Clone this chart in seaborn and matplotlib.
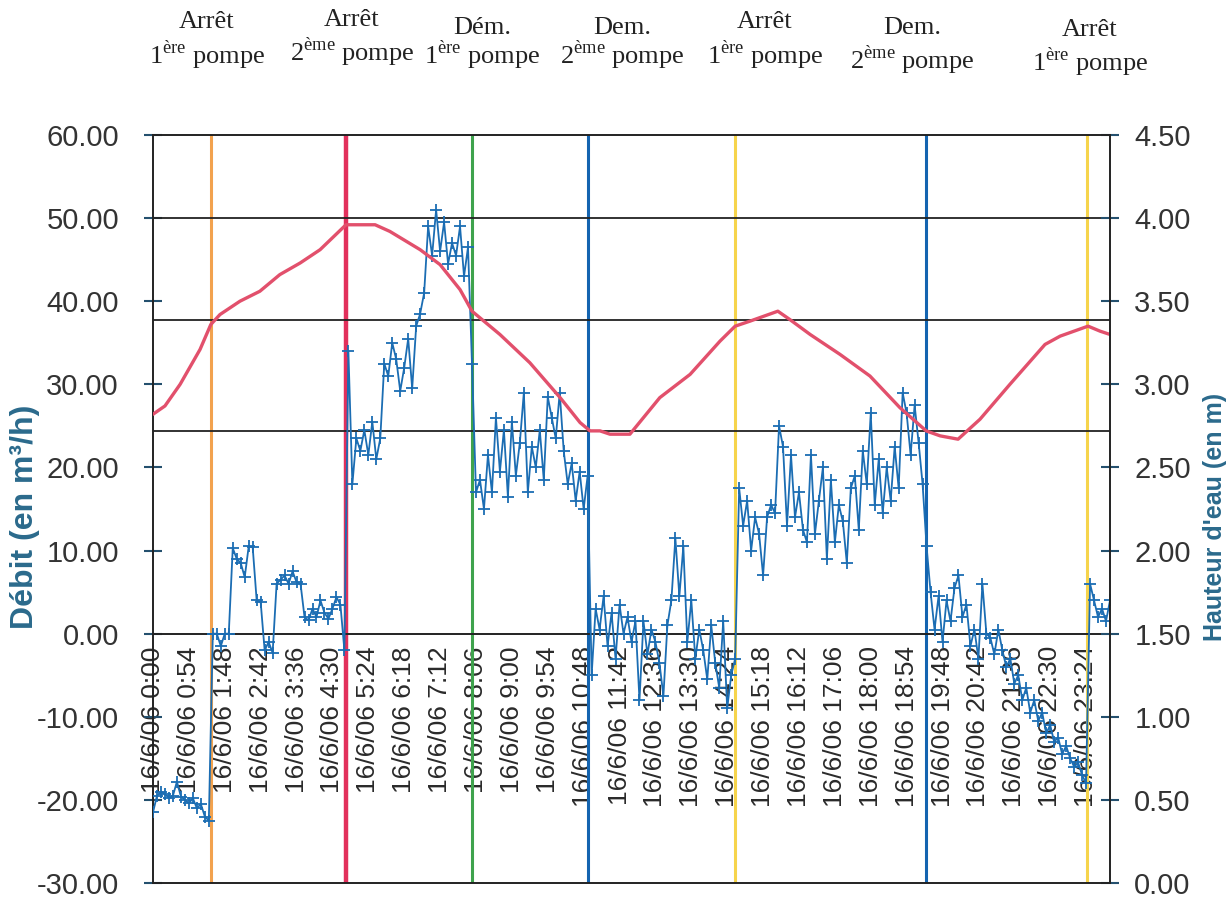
import numpy as np
import seaborn as sns
import matplotlib.pyplot as plt

# Débit (m3/h), un relevé toutes les 6 minutes de 0:00 à 24:00
debit = [
    # 0:00 - 1:24
    -21.5, -19.5, -19.0, -19.3, -19.8, -19.5, -17.8, -19.6, -20.0, -20.4,
    -19.8, -21.0, -20.5, -22.0, -22.5,
    # 1:30 - 4:48
    0.0, 0.0, -1.5, 0.0, 0.0, 10.3, 9.0, 8.5, 6.8, 10.5, 10.4, 4.0, 3.8,
    -2.0, -1.0, -2.3, 6.0, 6.5, 7.0, 6.0, 7.5, 6.2, 6.0, 2.0, 1.6, 3.0,
    2.0, 4.0, 2.5, 1.8, 3.0, 4.4, 3.5, -2.0,
    # 4:54 - 8:00
    34.0, 18.0, 23.5, 22.0, 24.5, 21.5, 25.5, 21.0, 23.5, 32.5, 31.0, 35.0,
    33.0, 29.2, 32.0, 35.5, 29.5, 37.0, 38.5, 41.0, 49.0, 45.5, 51.0, 46.0,
    49.5, 44.5, 47.0, 45.5, 49.0, 43.0, 46.5, 32.5,
    # 8:06 - 10:54
    17.0, 18.5, 15.0, 21.5, 17.0, 26.0, 19.5, 24.5, 16.5, 25.5, 19.0, 23.0,
    29.0, 17.0, 22.5, 20.0, 24.5, 18.5, 28.5, 26.0, 23.5, 29.0, 22.0, 18.0,
    20.5, 16.0, 19.5, 15.0, 19.0,
    # 11:00 - 14:36
    -5.0, 3.0, 0.5, 4.5, -1.5, 2.5, -3.0, 3.5, 0.0, 2.0, -1.0, 1.5, -8.0,
    1.5, -2.5, 0.5, -1.0, -3.5, -7.5, 1.0, 4.0, 11.5, 4.5, 10.5, -1.0, 4.0,
    -3.0, 0.5, -2.0, -5.5, 1.0, -3.5, -6.5, 1.5, -9.0, -5.0, -3.0,
    # 14:42 - 19:24
    17.5, 13.0, 16.0, 10.0, 14.0, 12.0, 7.0, 14.0, 15.5, 14.5, 25.0, 22.5,
    13.0, 21.5, 14.0, 17.0, 12.5, 11.0, 21.5, 12.0, 16.0, 20.0, 9.0, 18.5,
    11.0, 15.5, 13.5, 8.5, 17.5, 19.0, 12.5, 22.0, 18.0, 26.5, 15.5, 21.0,
    14.5, 20.0, 16.0, 22.5, 17.5, 29.0, 26.5, 21.5, 27.5, 23.0, 18.0, 10.5,
    # 19:30 - 23:24
    5.0, 0.5, 4.5, -1.0, 4.0, 1.5, 5.5, 7.0, 2.0, 3.5, -1.5, 0.5, -3.0, 6.0,
    0.0, -0.5, -2.5, 0.5, -2.0, -4.0, -3.0, -6.0, -5.0, -8.0, -6.5, -9.5,
    -8.0, -10.5, -9.5, -12.0, -11.0, -13.0, -12.5, -14.5, -13.5, -15.0,
    -16.0, -15.5, -17.0, -18.0,
    # 23:30 - 24:00
    6.0, 4.0, 2.0, 3.0, 1.5, 4.0,
]
heure_debit = np.arange(len(debit)) * 0.1

# Hauteur d'eau (m)
heure_niveau = [0.0, 0.30, 0.68, 1.18, 1.45, 1.68, 2.18, 2.68, 3.18, 3.69,
                4.19, 4.84, 5.57, 5.94, 6.70, 7.20, 7.70, 8.00, 8.70, 9.45,
                10.21, 10.71, 10.96, 11.21, 11.46, 11.96, 12.71, 13.47, 14.22,
                14.60, 14.97, 15.67, 15.97, 16.48, 17.23, 17.98, 18.73, 19.39,
                19.74, 20.19, 20.74, 21.49, 22.37, 22.75, 23.45, 23.75, 24.0]
niveau = [2.82, 2.87, 3.00, 3.21, 3.36, 3.42, 3.50, 3.56, 3.66, 3.73,
          3.81, 3.96, 3.96, 3.92, 3.81, 3.72, 3.57, 3.44, 3.30, 3.13,
          2.92, 2.77, 2.72, 2.72, 2.70, 2.70, 2.92, 3.06, 3.26,
          3.35, 3.38, 3.44, 3.39, 3.30, 3.18, 3.05, 2.86, 2.72,
          2.69, 2.67, 2.79, 3.00, 3.24, 3.29, 3.35, 3.32, 3.30]

# consignes de niveau (en débit, axe de gauche)
seuils = [50.0, 37.8, 24.4]

# événements pompes
evenements_heure = [1.45, 4.84, 8.0, 10.91, 14.6, 19.39, 23.42]
evenements_couleur = ['#F2A24E', '#E2305C', '#3FA34D', '#1464B0',
                      '#F6D44C', '#1464B0', '#F6D44C']
evenements_titre = ['Arrêt', 'Arrêt', 'Dém.', 'Dem.', 'Arrêt', 'Dem.', 'Arrêt']
evenements_pompe = ['1', '2', '1', '2', '1', '2', '1']
evenements_suffixe = ['ère', 'ème', 'ère', 'ème', 'ère', 'ème', 'ère']

heures_labels = ['16/6/06 0:00', '16/6/06 0:54', '16/6/06 1:48', '16/6/06 2:42',
                 '16/6/06 3:36', '16/6/06 4:30', '16/6/06 5:24', '16/6/06 6:18',
                 '16/6/06 7:12', '16/6/06 8:06', '16/6/06 9:00', '16/6/06 9:54',
                 '16/6/06 10:48', '16/6/06 11:42', '16/6/06 12:36', '16/6/06 13:30',
                 '16/6/06 14:24', '16/6/06 15:18', '16/6/06 16:12', '16/6/06 17:06',
                 '16/6/06 18:00', '16/6/06 18:54', '16/6/06 19:48', '16/6/06 20:42',
                 '16/6/06 21:36', '16/6/06 22:30', '16/6/06 23:24']

sns.set_style('white')
plt.rcParams['font.family'] = ['Liberation Sans', 'DejaVu Sans']
plt.rcParams['axes.unicode_minus'] = False

W, H = 1227, 898
fig = plt.figure(figsize=(W / 100, H / 100), dpi=100)
ax = fig.add_axes([153 / W, 15 / H, 957 / W, 748 / H])
ax2 = ax.twinx()

# lignes verticales des événements
for h, c in zip(evenements_heure, evenements_couleur):
    lw = 3.2 if c == '#E2305C' else 2.2
    ax.axvline(h, color=c, lw=lw, zorder=1)

for s in seuils:
    ax.axhline(s, color='#222222', lw=1.3, zorder=2)

sns.lineplot(x=heure_debit, y=debit, ax=ax, color='#1B6DB3', linewidth=1.3,
             marker='+', markersize=8, markeredgewidth=1.3,
             markeredgecolor='#1B6DB3', estimator=None, zorder=3)
sns.lineplot(x=heure_niveau, y=niveau, ax=ax2, color='#E2506C', linewidth=2.4,
             estimator=None, sort=False)

ax.set_xlim(0, 24)
ax.set_ylim(-30, 60)
ax2.set_ylim(0, 4.5)

# axe des temps sur le zéro
ax.spines['bottom'].set_position(('data', 0))
for sp in ['left', 'bottom']:
    ax.spines[sp].set_color('#222222')
    ax.spines[sp].set_linewidth(1.4)
ax.spines['top'].set_visible(False)
ax.spines['right'].set_visible(False)
for sp in ['top', 'bottom', 'right']:
    ax2.spines[sp].set_color('#222222')
    ax2.spines[sp].set_linewidth(1.4)
ax2.spines['left'].set_visible(False)

ax.set_xticks(np.arange(len(heures_labels)) * 0.9)
ax.set_xticklabels(heures_labels, rotation=90)
ax.set_xticks(np.arange(0, 24, 0.3), minor=True)
ax.tick_params(axis='x', which='both', direction='inout', length=12, width=1.3,
               color='#222222', labelsize=19, labelcolor='#2a2a2a', pad=3)

yt = np.arange(-30, 61, 10)
ax.set_yticks(yt)
ax.set_yticklabels(['{:.2f}'.format(v) for v in yt])
ax.tick_params(axis='y', direction='inout', length=13, width=1.5,
               color='#24506e', labelsize=21, labelcolor='#333333', pad=18)

yt2 = np.arange(0, 4.51, 0.5)
ax2.set_yticks(yt2)
ax2.set_yticklabels(['{:.2f}'.format(v) for v in yt2])
ax2.tick_params(axis='y', direction='inout', length=13, width=1.5,
                color='#24506e', labelsize=21, labelcolor='#333333', pad=11)

ax.set_xlabel('')
ax.set_ylabel('Débit (en m³/h)', fontsize=23, fontweight='bold', color='#2B6A8C')
ax.yaxis.set_label_coords(-0.118, 0.49)
ax2.set_ylabel("Hauteur d'eau (en m)", fontsize=18, fontweight='bold', color='#2B6A8C')
ax2.yaxis.set_label_coords(1.097, 0.49)

# annotations au-dessus du graphique
ann_x = [207, 352, 482, 622, 765, 912, 1090]
ann_y1 = [22, 20, 28, 28, 22, 28, 30]
ann_y2 = [55, 52, 55, 55, 55, 60, 62]
for i in range(len(evenements_titre)):
    fig.text(ann_x[i] / W, 1 - ann_y1[i] / H, evenements_titre[i],
             ha='center', va='center', fontsize=19, family='Liberation Serif',
             color='#222222')
    fig.text(ann_x[i] / W, 1 - ann_y2[i] / H,
             evenements_pompe[i] + r'$^{\mathregular{' + evenements_suffixe[i] + '}}$ pompe',
             ha='center', va='center', fontsize=19, family='Liberation Serif',
             color='#222222')

fig.savefig('out.png', dpi=100)
